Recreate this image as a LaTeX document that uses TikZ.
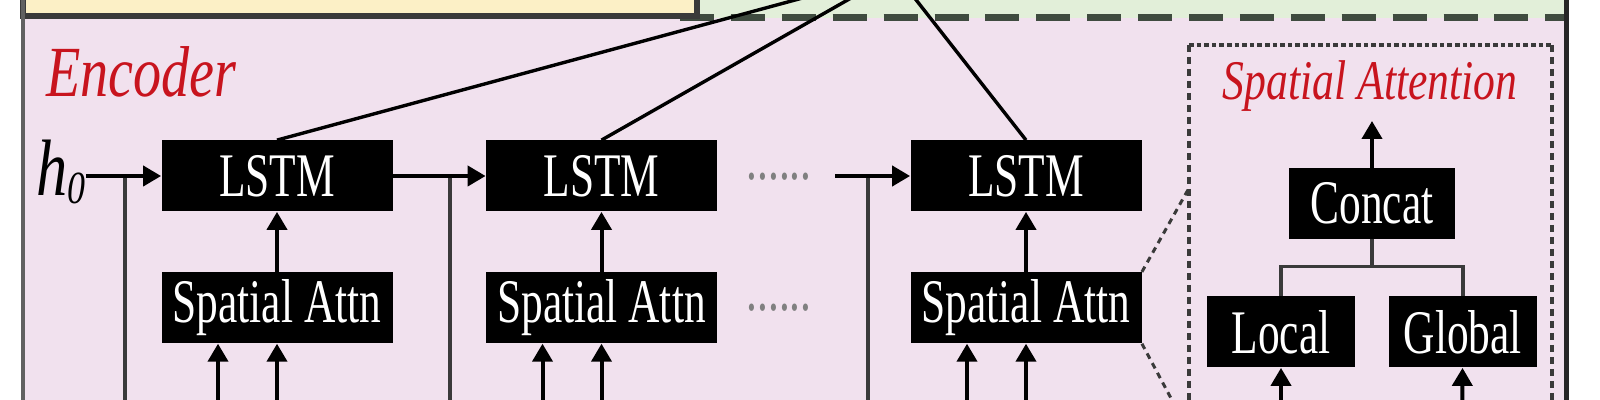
\documentclass[tikz,border=0pt]{standalone}
\usepackage{fontspec}
\setmainfont{Liberation Serif}
\newfontfamily\cajafont[FakeStretch=0.7]{Liberation Serif}
\newfontfamily\titfont[FakeStretch=0.78]{Liberation Serif}
\usetikzlibrary{arrows.meta,positioning,calc}
\definecolor{rojo}{HTML}{C8141E}
\definecolor{rosaf}{HTML}{F1E1EE}
\definecolor{amarf}{HTML}{FCF0C6}
\definecolor{verdef}{HTML}{E2EFD9}
\definecolor{gris}{HTML}{3A3A3A}
\definecolor{grisv}{HTML}{3F4B3F}

\begin{document}
\begin{tikzpicture}[x=0.5pt,y=-0.5pt,
  caja/.style={fill=black,text=white,inner sep=0pt,minimum height=35.5pt,
               font=\cajafont\fontsize{31}{31}\selectfont},
  puntos/.style={text=gray,anchor=base,inner sep=0pt,font=\cajafont\fontsize{31}{31}\selectfont},
  flecha/.style={-{Triangle[length=9pt,width=10pt]},line width=2pt},
  linea/.style={line width=1.7pt,draw=gris},
  punteada/.style={line width=1.5pt,draw=gris,dash pattern=on 3pt off 2.5pt}]
  \useasboundingbox (0,0) rectangle (1600,400);
  \clip (0,0) rectangle (1600,400);
  % fondos
  \fill[rosaf] (23,-40) rectangle (1566,440);
  \fill[verdef] (697,-40) rectangle (1566,18);
  \draw[grisv,line width=3.5pt,dash pattern=on 17pt off 8.45pt] (680,18) -- (1566,18);
  \draw[gris,line width=3pt,fill=amarf] (23,-40) rectangle (697,16);
  \draw[gris!80,line width=2pt] (23,-40) -- (23,440);
  \draw[black!85,line width=2.5pt] (1566,-40) -- (1566,440);

  % encoder
  \node[text=rojo,font=\titfont\itshape\fontsize{36}{36}\selectfont,anchor=base west,inner sep=0pt] (enc) at (46,97) {Encoder};
  \node[font=\titfont\itshape\fontsize{40}{40}\selectfont,anchor=base west,inner sep=0pt] (h0) at (36,196)
    {h\raisebox{-4pt}{\fontsize{23}{23}\selectfont 0}};
  \node[caja,minimum width=115.5pt] (lstm1) at (277,176) {LSTM};
  \node[caja,minimum width=115.5pt] (lstm2) at (601.5,176) {LSTM};
  \node[caja,minimum width=115.5pt] (lstm3) at (1026,176) {LSTM};
  \node[caja,minimum width=115.5pt,below=30pt of lstm1] (sa1) {Spatial Attn};
  \node[caja,minimum width=115.5pt,below=30pt of lstm2] (sa2) {Spatial Attn};
  \node[caja,minimum width=115.5pt,below=30pt of lstm3] (sa3) {Spatial Attn};
  \node[puntos] (pts1) at (779,180) {......};
  \node[puntos] (pts2) at (779,311) {......};

  \coordinate (dec) at (895,-27);
  \foreach \i in {1,2,3} \draw[line width=1.7pt] (lstm\i.north) -- (dec);

  \coordinate (x0) at (125,430);
  \coordinate (x1) at (450,430);
  \coordinate (x2) at (868,430);
  \draw[linea] (x0) -- (x0 |- lstm1.west);
  \draw[linea] (x1) -- (x1 |- lstm1.east);
  \draw[linea] (x2) -- (x2 |- lstm3.west);

  \draw[flecha] (h0.east |- lstm1.west) -- (lstm1.west);
  \draw[flecha] (lstm1) -- (lstm2);
  \coordinate (ent3) at (835,176);
  \draw[flecha] (ent3) -- (lstm3);
  \foreach \i in {1,2,3}{
    \draw[flecha] (sa\i) -- (lstm\i);
    \coordinate (a\i) at ([xshift=-29.5pt,yshift=-40pt]sa\i.south);
    \coordinate (b\i) at ([yshift=-40pt]sa\i.south);
    \draw[flecha] (a\i) -- (a\i |- sa\i.south);
    \draw[flecha] (b\i) -- (sa\i);
  }

  % detalle de la atencion espacial
  \draw[gris,line width=2.4pt,dash pattern=on 2.3pt off 1.5pt] (1189,45) -- (1552,45);
  \draw[gris,line width=2.4pt,dash pattern=on 3.6pt off 2.4pt] (1189,45) -- (1189,440) (1552,45) -- (1552,440);
  \coordinate (zs) at (1189,188);
  \coordinate (zi) at (1189,432);
  \draw[punteada] (sa3.north east) -- (zs);
  \draw[punteada] (sa3.south east) -- (zi);
  \node[text=rojo,font=\titfont\itshape\fontsize{28}{28}\selectfont,anchor=base,inner sep=0pt] (satit) at (1370,100) {Spatial Attention};
  \node[caja,minimum width=83pt] (concat) at (1372,203.5) {Concat};
  \node[caja,minimum width=74pt] (local) at (1281,332) {Local};
  \node[caja,minimum width=74pt,right=16.5pt of local] (global) {Global};
  \coordinate (salida) at (1372,121);
  \draw[flecha] (concat) -- (salida);
  \coordinate (rama) at ([yshift=-13.5pt]concat.south);
  \draw[linea] (concat) -- (rama) -| (local);
  \draw[linea] (rama) -| (global);
  \coordinate (xl) at (1281,430);
  \coordinate (xg) at (1462,430);
  \draw[flecha] (xl) -- (local);
  \draw[flecha] (xg) -- (global);
\end{tikzpicture}
\end{document}
